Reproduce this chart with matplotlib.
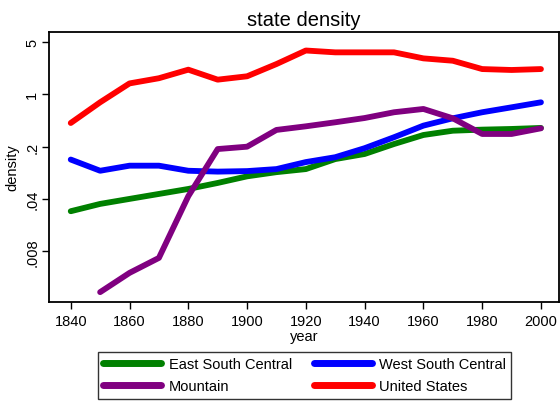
import matplotlib
matplotlib.use("Agg")
import matplotlib.pyplot as plt

plt.rcParams['font.family'] = ['Liberation Sans', 'DejaVu Sans']

years = [1840, 1850, 1860, 1870, 1880, 1890, 1900, 1910, 1920,
         1930, 1940, 1950, 1960, 1970, 1980, 1990, 2000]

esc = [0.0274, 0.0343, 0.040, 0.0466, 0.0543, 0.0653, 0.080, 0.091, 0.100,
       0.136, 0.159, 0.216, 0.285, 0.325, 0.336, 0.343, 0.354]
wsc = [0.134, 0.095, 0.111, 0.111, 0.095, 0.0925, 0.094, 0.100, 0.124,
       0.144, 0.190, 0.266, 0.380, 0.476, 0.573, 0.667, 0.778]
mtn_years = years[1:]
mtn = [0.00228, 0.00412, 0.00653, 0.0435, 0.185, 0.199, 0.333, 0.372,
       0.421, 0.480, 0.573, 0.634, 0.476, 0.294, 0.294, 0.350]
usa = [0.412, 0.778, 1.39, 1.63, 2.12, 1.56, 1.73, 2.52, 3.82,
       3.61, 3.61, 3.61, 3.00, 2.79, 2.16, 2.10, 2.16]

yticks = [5, 1, 0.2, 0.04, 0.008]
ylabels = ['5', '1', '.2', '.04', '.008']
xticks = list(range(1840, 2001, 20))

fig = plt.figure(figsize=(5.6, 4.02), dpi=100)
ax = fig.add_axes([0.0875, 0.247, 0.9105, 0.670])

kw = dict(lw=4.2, solid_capstyle='round', solid_joinstyle='round')
l_esc, = ax.plot(years, esc, color='#008000', label='East South Central', **kw)
l_wsc, = ax.plot(years, wsc, color='#0000ff', label='West South Central', **kw)
l_mtn, = ax.plot(mtn_years, mtn, color='#800080', label='Mountain', **kw)
l_usa, = ax.plot(years, usa, color='#ff0000', label='United States', **kw)

ax.set_yscale('log')
ax.set_ylim(0.0017, 6.67)
ax.set_xlim(1832.6, 2006.1)
ax.set_yticks(yticks)
ax.set_yticklabels(ylabels, rotation=90, va='center')
ax.minorticks_off()
ax.set_xticks(xticks)
ax.tick_params(labelsize=10.5, length=5, width=1, direction='out', color='black')
ax.tick_params(axis='y', pad=2)

for s in ax.spines.values():
    s.set_linewidth(1.3)

ax.set_title('state density', fontsize=14.5, pad=5)
ax.set_xlabel('year', fontsize=10.5, labelpad=1)
ax.set_ylabel('density', fontsize=10.5, labelpad=4)

# legend fills column by column, so order handles to read row-wise
handles = [l_esc, l_mtn, l_wsc, l_usa]
leg = fig.legend(handles, [h.get_label() for h in handles],
                 loc='upper center', bbox_to_anchor=(0.544, 0.141), ncol=2,
                 fontsize=10.5, handlelength=4.0, handletextpad=0.5,
                 columnspacing=1.5, labelspacing=0.6, borderpad=0.35,
                 frameon=True, fancybox=False, edgecolor='black')
leg.get_frame().set_linewidth(1.0)
for h in leg.get_lines():
    h.set_linewidth(5)

fig.savefig('out.png', dpi=100)
